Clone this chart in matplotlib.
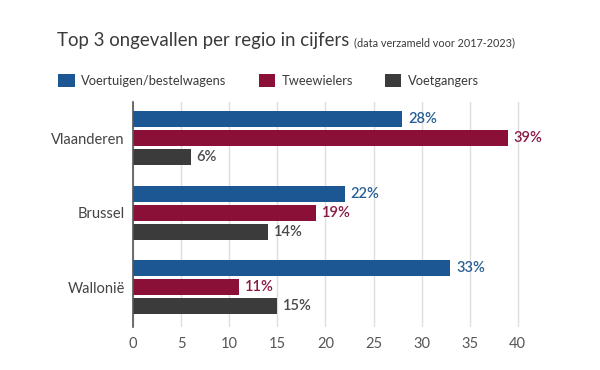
import matplotlib.pyplot as plt
import numpy as np

plt.rcParams['font.family'] = ['Lato', 'DejaVu Sans']

regions = ['Vlaanderen', 'Brussel', 'Wallonië']
series = ['Voertuigen/bestelwagens', 'Tweewielers', 'Voetgangers']
voertuigen = [28, 22, 33]
tweewielers = [39, 19, 11]
voetgangers = [6, 14, 15]
colors = ['#1d5793', '#8a1038', '#3b3b3b']
label_colors = ['#2a5f95', '#8a1a45', '#4a4a4a']

fig = plt.figure(figsize=(6, 3.7), dpi=100)
ax = fig.add_axes([0.222, 0.115, 0.673, 0.61])

y = np.arange(len(regions))
h = 0.215
pitch = 0.255
for i, (vals, name) in enumerate(zip([voertuigen, tweewielers, voetgangers], series)):
    pos = y + (i - 1) * pitch
    ax.barh(pos, vals, height=h, color=colors[i], label=name, zorder=3)
    for p, v in zip(pos, vals):
        ax.text(v + 0.6, p, f'{v}%', va='center', ha='left', fontsize=10.5,
                color=label_colors[i], fontweight='semibold')

ax.set_ylim(len(regions) - 1 + 0.54, -0.49)
ax.set_xlim(0, 42)
ax.set_xticks(range(0, 45, 5))
ax.set_yticks(y)
ax.set_yticklabels(regions, fontsize=10.5, color='#444444')
ax.tick_params(axis='x', labelsize=10.5, colors='#555555', length=0, pad=7)
ax.tick_params(axis='y', length=0, pad=6)
ax.grid(axis='x', color='#dedede', linewidth=1, zorder=0)
for s in ['top', 'right', 'bottom']:
    ax.spines[s].set_visible(False)
ax.spines['left'].set_color('#555555')
ax.spines['left'].set_linewidth(1.2)
ax.spines['left'].set_zorder(4)

fig.text(0.095, 0.876, 'Top 3 ongevallen per regio in cijfers', fontsize=13.4, color='#3a3a3a')
fig.text(0.59, 0.876, '(data verzameld voor 2017-2023)', fontsize=7.8, color='#3a3a3a')

fig.legend(loc='upper left', bbox_to_anchor=(0.078, 0.832), ncol=3, frameon=False,
           handlelength=1.25, handleheight=1.25, handletextpad=0.5, columnspacing=2.5,
           fontsize=9.3, labelcolor='#3a3a3a')

fig.savefig('out.png')
